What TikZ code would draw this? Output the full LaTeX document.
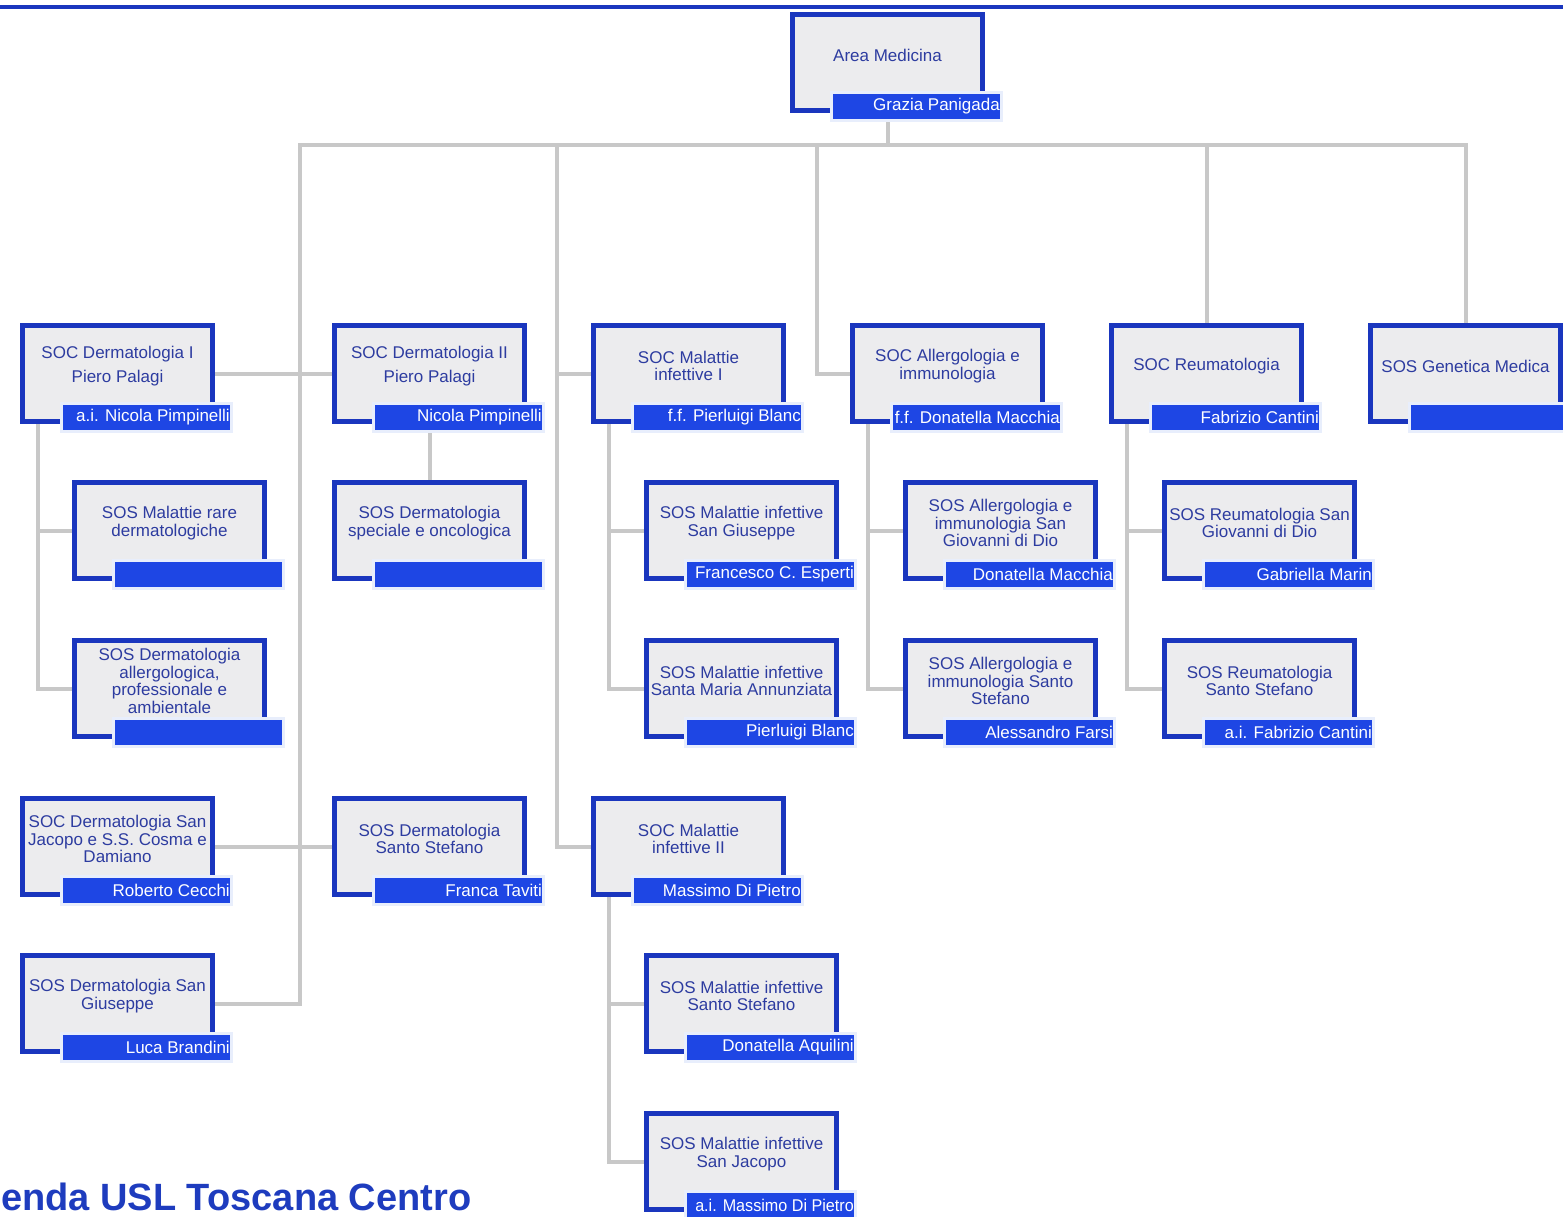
\documentclass[tikz,border=0pt]{standalone}
\usepackage{fontspec}
\setmainfont{Liberation Sans}
\usetikzlibrary{calc}
\pgfdeclarelayer{bg}
\pgfsetlayers{bg,main}

\definecolor{frameblue}{RGB}{26,54,190}
\definecolor{barblue}{RGB}{30,70,228}
\definecolor{boxgray}{RGB}{236,236,238}
\definecolor{unitink}{RGB}{45,60,160}
\definecolor{linkgray}{RGB}{200,200,200}
\definecolor{haloblue}{RGB}{232,238,252}
\definecolor{titleblue}{RGB}{30,60,190}

\tikzset{
  unitbox/.style={draw=frameblue, fill=boxgray, line width=5pt, inner sep=0pt,
    minimum width=190.5pt, minimum height=96.5pt},
  unittext/.style={align=center, inner sep=0pt, text=unitink,
    font=\fontsize{17}{17.5}\selectfont},
  namebar/.style={draw=haloblue, fill=barblue, line width=3pt, inner sep=0pt,
    minimum width=170pt, minimum height=28pt},
  nametext/.style={anchor=east, inner sep=0pt, text=white,
    font=\fontsize{17}{17}\selectfont},
  link/.style={draw=linkgray, line width=4pt, line cap=rect},
}

% one organisational unit: name, left edge, top edge, title, head of unit
\newcommand{\orgunit}[5]{%
  \node[unitbox] (#1) at ({#2+97.5},{#3+50.5}) {};
  \node[unittext] (#1-t) at ({#2+97.5},{#3+43}) {#4};
  \node[namebar] (#1-n) at ({#2+126.5},{#3+94.5}) {};
  \node[nametext] (#1-p) at ([xshift=-3pt]#1-n.east) {#5};
}

\begin{document}
\begin{tikzpicture}[x=1pt,y=-1pt]
\useasboundingbox (0,0) rectangle (1563,1216);
\clip (0,0) rectangle (1563,1216);

% header rule
\draw[line width=4.5pt, frameblue] (0,7) -- (1563,7);

% units
\orgunit{root}{790}{12}{Area Medicina}{Grazia Panigada}

\orgunit{d1}{20}{323}{SOC Dermatologia I\\[7pt]Piero Palagi}{a.i. Nicola Pimpinelli}
\orgunit{d2}{332}{323}{SOC Dermatologia II\\[7pt]Piero Palagi}{Nicola Pimpinelli}
\orgunit{mi1}{591}{323}{SOC Malattie\\infettive I}{f.f. Pierluigi Blanc}
\orgunit{al}{850}{323}{SOC Allergologia e\\immunologia}{f.f. Donatella Macchia}
\orgunit{reu}{1109}{323}{SOC Reumatologia}{Fabrizio Cantini}
\orgunit{gen}{1368}{323}{SOS Genetica Medica}{}

\orgunit{mr}{72}{480}{SOS Malattie rare\\dermatologiche}{}
\orgunit{dso}{332}{480}{SOS Dermatologia\\speciale e oncologica}{}
\orgunit{misg}{644}{480}{SOS Malattie infettive\\San Giuseppe}{Francesco C. Esperti}
\orgunit{algd}{903}{480}{SOS Allergologia e\\immunologia San\\Giovanni di Dio}{Donatella Macchia}
\orgunit{regd}{1162}{480}{SOS Reumatologia San\\Giovanni di Dio}{Gabriella Marin}

\orgunit{da}{72}{638}{SOS Dermatologia\\allergologica,\\professionale e\\ambientale}{}
\orgunit{misma}{644}{638}{SOS Malattie infettive\\Santa Maria Annunziata}{Pierluigi Blanc}
\orgunit{alss}{903}{638}{SOS Allergologia e\\immunologia Santo\\Stefano}{Alessandro Farsi}
\orgunit{ress}{1162}{638}{SOS Reumatologia\\Santo Stefano}{a.i. Fabrizio Cantini}

\orgunit{dsj}{20}{796}{SOC Dermatologia San\\Jacopo e S.S. Cosma e\\Damiano}{Roberto Cecchi}
\orgunit{dss}{332}{796}{SOS Dermatologia\\Santo Stefano}{Franca Taviti}
\orgunit{mi2}{591}{796}{SOC Malattie\\infettive II}{Massimo Di Pietro}

\orgunit{dsg}{20}{953}{SOS Dermatologia San\\Giuseppe}{Luca Brandini}
\orgunit{miss}{644}{953}{SOS Malattie infettive\\Santo Stefano}{Donatella Aquilini}

\orgunit{misj}{644}{1111}{SOS Malattie infettive\\San Jacopo}{\scalebox{0.95}[1]{a.i. Massimo Di Pietro}}

% connector junctions
\coordinate (bus) at (0,145);
\coordinate (dspine) at (300,145);
\coordinate (mspine) at (557,145);
\coordinate (aspine) at (817,145);

\begin{pgfonlayer}{bg}
  % main bus
  \draw[link] (root.center) -- (root.center |- bus);
  \draw[link] (dspine) -- (gen.center |- bus);
  \draw[link] (reu.center) -- (reu.center |- bus);
  \draw[link] (gen.center) -- (gen.center |- bus);
  % dermatology branch
  \draw[link] (dspine) |- (dsg.center);
  \draw[link] (d1.center) -- (d2.center);
  \draw[link] (dsj.center) -- (dss.center);
  \draw[link] (d2.center) -- (dso.center);
  \draw[link] ([xshift=18pt]d1.west) |- (da.center);
  \draw[link] ([xshift=18pt]d1.west |- mr.center) -- (mr.center);
  % infectious diseases branch
  \draw[link] (mspine) |- (mi2.center);
  \draw[link] (mi1.center) -- (mi1.center -| mspine);
  \draw[link] ([xshift=18pt]mi1.west) |- (misma.center);
  \draw[link] ([xshift=18pt]mi1.west |- misg.center) -- (misg.center);
  \draw[link] ([xshift=18pt]mi2.west) |- (misj.center);
  \draw[link] ([xshift=18pt]mi2.west |- miss.center) -- (miss.center);
  % allergology branch
  \draw[link] (aspine) |- (al.center);
  \draw[link] ([xshift=18pt]al.west) |- (alss.center);
  \draw[link] ([xshift=18pt]al.west |- algd.center) -- (algd.center);
  % rheumatology branch
  \draw[link] ([xshift=18pt]reu.west) |- (ress.center);
  \draw[link] ([xshift=18pt]reu.west |- regd.center) -- (regd.center);
\end{pgfonlayer}

% footer title
\node[anchor=base west, inner sep=0pt, text=titleblue,
  font=\bfseries\fontsize{38}{40}\selectfont] (title) at (1,1210) {enda USL Toscana Centro};
\end{tikzpicture}
\end{document}
